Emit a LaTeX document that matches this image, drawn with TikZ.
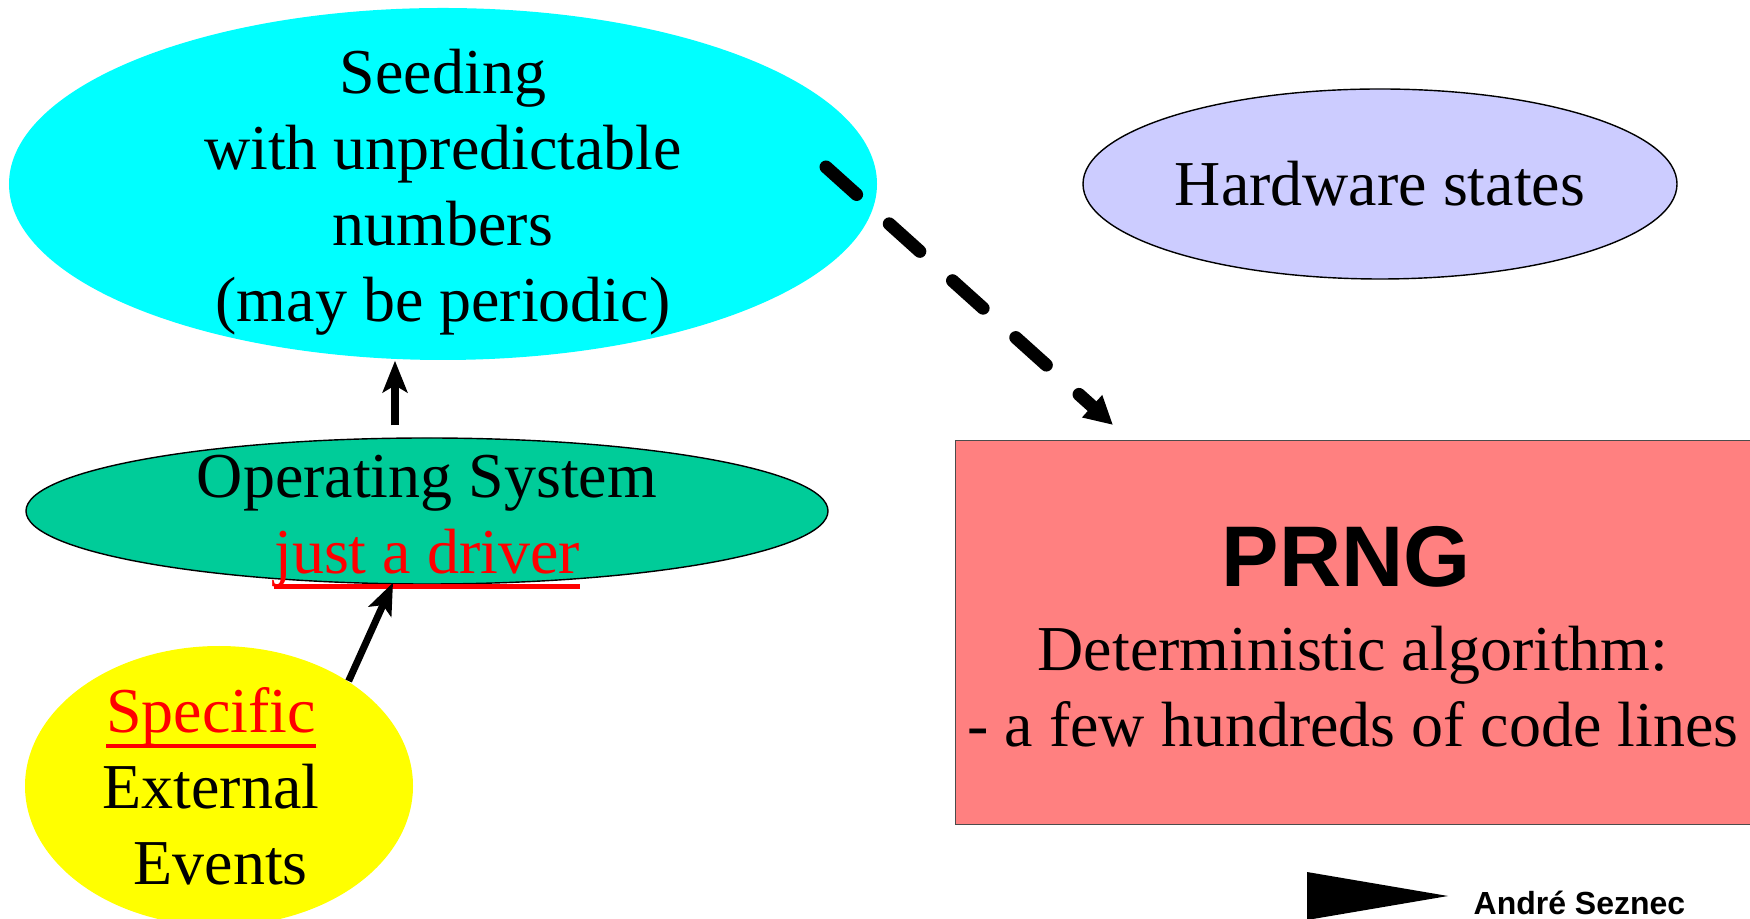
\documentclass[tikz,border=0pt]{standalone}
\usepackage{fontspec}
\setmainfont{Liberation Serif}
\setsansfont{Liberation Sans}
\usetikzlibrary{positioning,shapes.geometric,arrows.meta,calc}

\definecolor{seedcyan}{HTML}{00FFFF}
\definecolor{hwblue}{HTML}{CCCCFF}
\definecolor{osgreen}{HTML}{00CC99}
\definecolor{evyellow}{HTML}{FFFF00}
\definecolor{prngred}{HTML}{FF8080}

% thick underline in the current colour
\newcommand{\thickul}[1]{\setbox0\hbox{#1}\leavevmode\rlap{\vrule height -3.2pt depth 4.6pt width \wd0}\box0}

\begin{document}
\begin{tikzpicture} [bubble/.style={ellipse,inner sep=0pt},
                    txt/.style={align=center,inner sep=0pt,font=\fontsize{18.2}{21.6}\selectfont},
                    solidarrow/.style={line width=2pt,-{Stealth[length=9pt,width=7pt,inset=2pt]}},
                    dasharrow/.style={line width=3.7pt,line cap=round,dash pattern=on 11.7pt off 12.5pt,
                                      -{Triangle[length=8pt,width=8pt]}}]

\useasboundingbox (0,0) rectangle (17.5,-9.19);

% the four bubbles
\node[bubble,fill=seedcyan,minimum width=8.68cm,minimum height=3.52cm] (seed) at (4.43,-1.84)
    [label={[txt,yshift=-0.08cm]center:Seeding\\with unpredictable\\numbers\\(may be periodic)}] {};
\node[bubble,draw,thin,fill=hwblue,minimum width=5.94cm,minimum height=1.90cm] (hw) at (13.80,-1.84)
    [label={[txt]center:Hardware states}] {};
\node[bubble,draw,thin,fill=osgreen,minimum width=8.02cm,minimum height=1.46cm] (os) at (4.27,-5.11)
    [label={[txt,yshift=-0.11cm]center:Operating System\\{\color{red}\thickul{just a driver}}}] {};
\node[bubble,fill=evyellow,minimum width=3.88cm,minimum height=2.80cm] (ev) at (2.19,-7.86)
    [label={[txt,xshift=-0.08cm]center:{\color{red}\thickul{Specific}}\\External\\\hspace*{0.3em}Events}] {};

% the generator box runs off the right edge
\node[draw=black!70,thin,fill=prngred,minimum width=8.0cm,minimum height=3.84cm,anchor=north west] (prng) at (9.55,-4.40) {};
\node[inner sep=0pt,font=\sffamily\bfseries\fontsize{24.5}{28}\selectfont] (prng-title) at (13.46,-5.57) {PRNG};
\node[txt] (prng-txt) at (13.53,-6.87) {Deterministic algorithm:\\- a few hundreds of code lines};

\draw[solidarrow] ($(os.north)+(-0.32,0.12)$) -- ($(seed.south)+(-0.48,0)$);
\draw[solidarrow] (ev.39) -- ($(os.south)+(-0.34,0.02)$);
\draw[dasharrow] ($(seed.center)+(3.83,0.17)$) -- ($(prng.north west)+(1.58,0.15)$);

% footer
\fill (13.07,-8.72) -- (14.48,-8.96) -- (13.07,-9.20) -- cycle;
\node[anchor=west,inner sep=0pt,font=\sffamily\bfseries\fontsize{9.1}{11}\selectfont] (author) at (14.73,-9.03) {André Seznec};
\end{tikzpicture}
\end{document}
